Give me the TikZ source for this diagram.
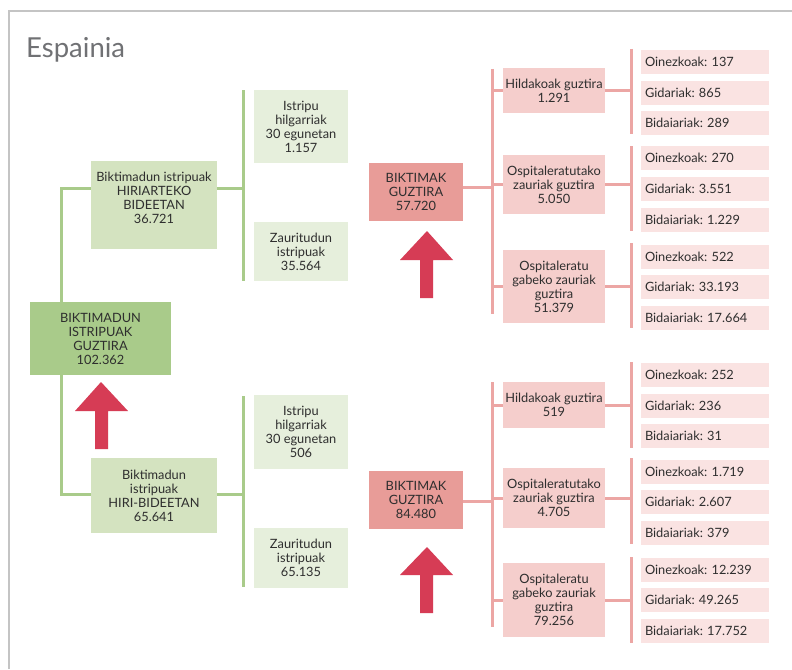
\documentclass[tikz,border=0pt]{standalone}
\usepackage{fontspec}
\setmainfont{Lato}
\frenchspacing
\definecolor{frame}{HTML}{C4C4C4}
\definecolor{title}{HTML}{707174}
\definecolor{txt}{HTML}{2E2E2E}
\definecolor{gmain}{HTML}{A9CB8A}
\definecolor{gmid}{HTML}{D4E3C0}
\definecolor{glight}{HTML}{E6EFDC}
\definecolor{gline}{HTML}{A9CB8A}
\definecolor{rmain}{HTML}{E89C98}
\definecolor{rmid}{HTML}{F5CECC}
\definecolor{rleaf}{HTML}{FAE3E2}
\definecolor{rline}{HTML}{ECA6A4}
\definecolor{arrowc}{HTML}{D63C55}
\tikzset{
  bx/.style={rectangle, inner sep=1pt, align=center, text=txt, font=\fontsize{12.8}{14}\selectfont},
  gbig/.style={bx, fill=gmain},
  gmidbox/.style={bx, fill=gmid},
  gsmall/.style={bx, fill=glight},
  rbig/.style={bx, fill=rmain},
  rmidbox/.style={bx, fill=rmid, minimum width=102pt},
  leaf/.style={bx, fill=rleaf, minimum width=128pt, minimum height=24pt, text width=120pt, align=left, inner xsep=4pt},
  gconn/.style={draw=gline, line width=3pt},
  rconn/.style={draw=rline, line width=3pt},
  uparrow/.style={fill=arrowc, draw=none}
}
\begin{document}
\begin{tikzpicture}[x=1pt,y=-1pt]
\useasboundingbox (0,0) rectangle (792,669);
\fill[white] (0,0) rectangle (792,669);
% frame
\draw[frame, line width=2pt] (8.5,669) -- (8.5,11.5) -- (792,11.5);
\node[anchor=base west, inner sep=0pt, text=title, font=\fontsize{27.5}{30}\selectfont] (title) at (26,57) {Espainia};

% green nodes
\node[gbig, minimum width=141pt, minimum height=73pt] (main) at (100.5,338.5) {BIKTIMADUN\\ISTRIPUAK\\GUZTIRA\\102.362};
\node[gmidbox, minimum width=126pt, minimum height=88pt] (hir) at (154,205) {Biktimadun istripuak\\HIRIARTEKO\\BIDEETAN\\36.721\\[0pt]\rule{0pt}{0pt}};
\node[gmidbox, minimum width=126pt, minimum height=75pt] (hiri) at (154,495.5) {Biktimadun\\istripuak\\HIRI-BIDEETAN\\65.641};
\node[gsmall, minimum width=94pt, minimum height=73pt] (g1) at (301,126.5) {Istripu\\hilgarriak\\30 egunetan\\1.157};
\node[gsmall, minimum width=94pt, minimum height=59pt] (g2) at (301,251.5) {Zauritudun\\istripuak\\35.564};
\node[gsmall, minimum width=94pt, minimum height=74pt] (g3) at (301,432) {Istripu\\hilgarriak\\30 egunetan\\506};
\node[gsmall, minimum width=94pt, minimum height=60pt] (g4) at (301,558) {Zauritudun\\istripuak\\65.135};

% green connectors
\coordinate (gj1) at (243,188);
\coordinate (gt1) at (243,90);
\coordinate (gb1) at (243,281);
\coordinate (gj2) at (243,494);
\coordinate (gt2) at (243,396);
\coordinate (gb2) at (243,587);
\coordinate (gl) at (61,188);
\coordinate (gl2) at (61,494);
\draw[gconn] (gt1) -- (gb1);
\draw[gconn] (gt2) -- (gb2);
\draw[gconn] (hir.east |- gj1) -- (gj1);
\draw[gconn] (hiri.east |- gj2) -- (gj2);
\draw[gconn] (hir.west |- gl) -- (gl) -- (gl |- main.north);
\draw[gconn] (hiri.west |- gl2) -- (gl2) -- (gl2 |- main.south);

% red nodes
\node[rbig, minimum width=94pt, minimum height=58pt] (r1) at (416,192) {BIKTIMAK\\GUZTIRA\\57.720};
\node[rbig, minimum width=94pt, minimum height=58pt] (r2) at (416,500) {BIKTIMAK\\GUZTIRA\\84.480};

\node[rmidbox, minimum height=45pt] (m1) at (554,90.5) {Hildakoak guztira\\1.291};
\node[rmidbox, minimum height=59pt] (m2) at (554,184.5) {Ospitaleratutako\\zauriak guztira\\5.050};
\node[rmidbox, minimum height=73pt] (m3) at (554,286.5) {Ospitaleratu\\gabeko zauriak\\guztira\\51.379};
\node[rmidbox, minimum height=46pt] (m4) at (554,405) {Hildakoak guztira\\519};
\node[rmidbox, minimum height=60pt] (m5) at (554,498) {Ospitaleratutako\\zauriak guztira\\4.705};
\node[rmidbox, minimum height=74pt] (m6) at (554,600) {Ospitaleratu\\gabeko zauriak\\guztira\\79.256};

\node[leaf] (l1) at (705,62) {Oinezkoak: 137};
\node[leaf] (l2) at (705,93) {Gidariak: 865};
\node[leaf] (l3) at (705,123) {Bidaiariak: 289};
\node[leaf] (l4) at (705,158) {Oinezkoak: 270};
\node[leaf] (l5) at (705,189) {Gidariak: 3.551};
\node[leaf] (l6) at (705,220) {Bidaiariak: 1.229};
\node[leaf] (l7) at (705,257) {Oinezkoak: 522};
\node[leaf] (l8) at (705,287) {Gidariak: 33.193};
\node[leaf] (l9) at (705,318) {Bidaiariak: 17.664};
\node[leaf] (l10) at (705,375) {Oinezkoak: 252};
\node[leaf] (l11) at (705,406) {Gidariak: 236};
\node[leaf] (l12) at (705,436) {Bidaiariak: 31};
\node[leaf] (l13) at (705,472) {Oinezkoak: 1.719};
\node[leaf] (l14) at (705,502) {Gidariak: 2.607};
\node[leaf] (l15) at (705,533) {Bidaiariak: 379};
\node[leaf] (l16) at (705,570) {Oinezkoak: 12.239};
\node[leaf] (l17) at (705,600) {Gidariak: 49.265};
\node[leaf] (l18) at (705,631) {Bidaiariak: 17.752};

% red connectors
\coordinate (rj1) at (492,187);
\coordinate (rt1) at (492,69);
\coordinate (rb1) at (492,314);
\coordinate (rj2) at (492,501);
\coordinate (rt2) at (492,382);
\coordinate (rb2) at (492,627);
\draw[rconn] (rt1) -- (rb1);
\draw[rconn] (rt2) -- (rb2);
\draw[rconn] (r1.east |- rj1) -- (rj1);
\draw[rconn] (r2.east |- rj2) -- (rj2);
\draw[rconn] (rj1 |- m1.west) -- (m1.west);
\draw[rconn] (rj1 |- m2.west) -- (m2.west);
\draw[rconn] (rj1 |- m3.west) -- (m3.west);
\draw[rconn] (rj2 |- m4.west) -- (m4.west);
\draw[rconn] (rj2 |- m5.west) -- (m5.west);
\draw[rconn] (rj2 |- m6.west) -- (m6.west);

\coordinate (v1t) at (631,49);  \coordinate (v1b) at (631,134);
\coordinate (v2t) at (631,146); \coordinate (v2b) at (631,231);
\coordinate (v3t) at (631,243); \coordinate (v3b) at (631,328);
\coordinate (v4t) at (631,362); \coordinate (v4b) at (631,448);
\coordinate (v5t) at (631,458); \coordinate (v5b) at (631,544);
\coordinate (v6t) at (631,557); \coordinate (v6b) at (631,643);
\draw[rconn] (v1t) -- (v1b);
\draw[rconn] (v2t) -- (v2b);
\draw[rconn] (v3t) -- (v3b);
\draw[rconn] (v4t) -- (v4b);
\draw[rconn] (v5t) -- (v5b);
\draw[rconn] (v6t) -- (v6b);
\draw[rconn] (m1.east) -- (v1t |- m1.east);
\draw[rconn] (m2.east) -- (v2t |- m2.east);
\draw[rconn] (m3.east) -- (v3t |- m3.east);
\draw[rconn] (m4.east) -- (v4t |- m4.east);
\draw[rconn] (m5.east) -- (v5t |- m5.east);
\draw[rconn] (m6.east) -- (v6t |- m6.east);

% arrows
\fill[uparrow] (101,382) -- (128,411) -- (108,411) -- (108,449) -- (95,449) -- (95,411) -- (75,411) -- cycle;
\fill[uparrow] (427,231) -- (453,260) -- (433,260) -- (433,298) -- (420,298) -- (420,260) -- (400,260) -- cycle;
\fill[uparrow] (427,547) -- (453,575) -- (433,575) -- (433,613) -- (420,613) -- (420,575) -- (400,575) -- cycle;
\end{tikzpicture}
\end{document}
